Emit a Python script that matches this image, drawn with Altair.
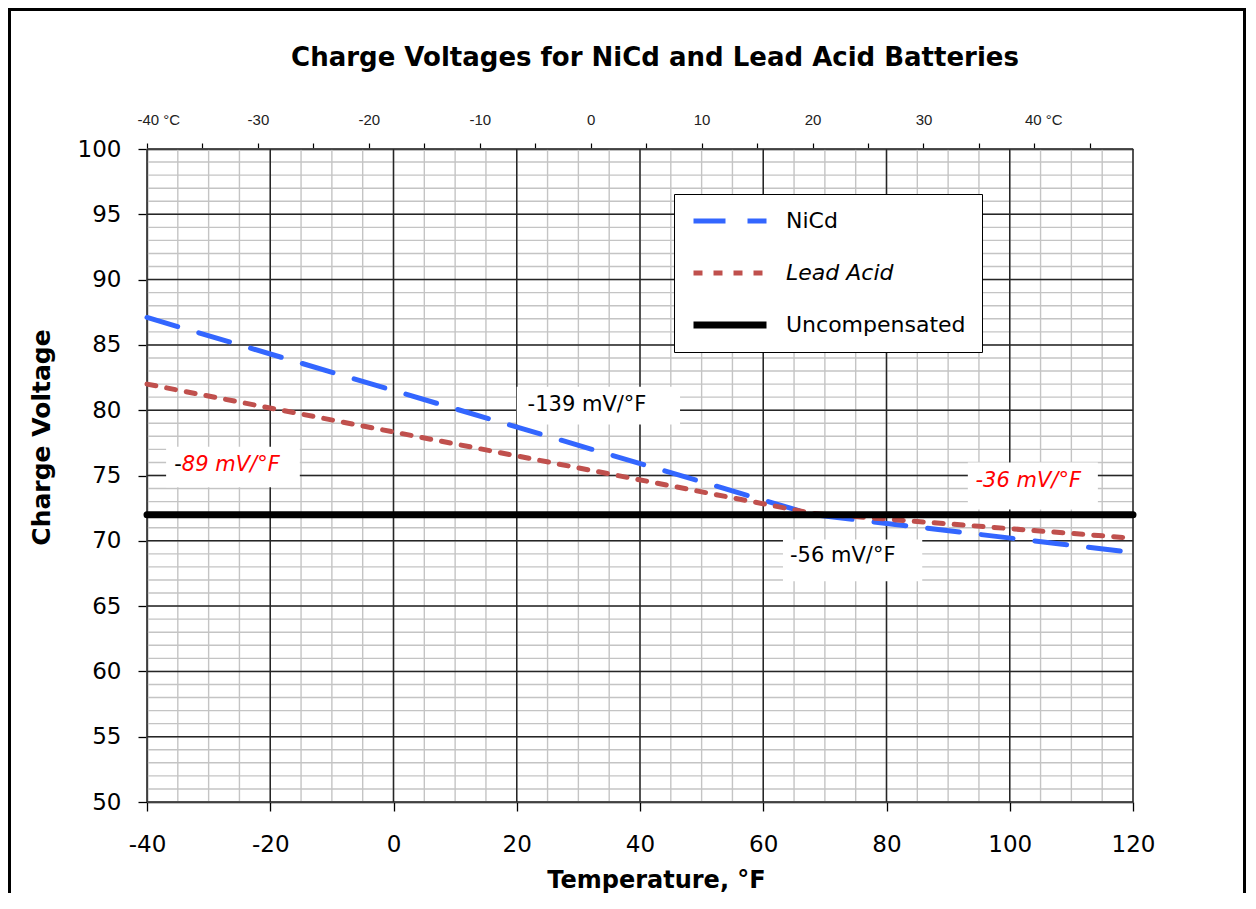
import altair as alt
import pandas as pd

# ---------------- data ----------------
series_names = ["NiCd", "Lead Acid", "Uncompensated"]
series_colors = ["#3366FF", "#C0504D", "#000000"]

nicd_temp = [-40, 68, 120]
nicd_volt = [87.1, 72.0, 69.1]
lead_temp = [-40, 68, 120]
lead_volt = [82.0, 72.1, 70.2]
uncomp_temp = [-40, 120]
uncomp_volt = [72.0, 72.0]

minor_f = list(range(-40, 121, 5))
major_f = list(range(-40, 121, 20))
minor_v = list(range(50, 101, 1))
major_v = list(range(50, 101, 5))
celsius_ticks = list(range(-40, 46, 5))

# annotation labels (anchor in deg F / volts)
black_text = ["-139 mV/°F", "-56 mV/°F"]
black_f = [31.4, 72.9]
black_v = [80.4, 68.8]
red_text = ["-36 mV/°F", "89 mV/°F"]
red_f = [103.0, -26.4]
red_v = [74.6, 75.8]
minus_text = ["-"]
minus_f = [-34.95]
minus_v = [75.8]

# white boxes behind annotations (deg F / volts)
box_f1 = [20.0, 63.2, -36.9, 93.2]
box_f2 = [46.5, 85.8, -15.2, 114.3]
box_v1 = [81.8, 70.1, 77.2, 76.0]
box_v2 = [78.9, 66.9, 74.1, 72.4]

# ---------------- frames ----------------
lines_df = pd.DataFrame({
    "F": nicd_temp + lead_temp + uncomp_temp,
    "V": nicd_volt + lead_volt + uncomp_volt,
    "series": ["NiCd"] * len(nicd_temp) + ["Lead Acid"] * len(lead_temp)
              + ["Uncompensated"] * len(uncomp_temp),
})
minor_f_df = pd.DataFrame({"F": minor_f})
major_f_df = pd.DataFrame({"F": major_f})
minor_v_df = pd.DataFrame({"V": minor_v})
major_v_df = pd.DataFrame({"V": major_v})
black_df = pd.DataFrame({"F": black_f, "V": black_v, "t": black_text})
red_df = pd.DataFrame({"F": red_f, "V": red_v, "t": red_text})
minus_df = pd.DataFrame({"F": minus_f, "V": minus_v, "t": minus_text})
box_df = pd.DataFrame({"F": box_f1, "F2": box_f2, "V": box_v1, "V2": box_v2})
cel_df = pd.DataFrame({"C": celsius_ticks})
dummy = pd.DataFrame({"d": [0]})

FONT = "DejaVu Sans"
W, H = 986, 653

xscale = alt.Scale(domain=[-40, 120], nice=False, zero=False)
yscale = alt.Scale(domain=[50, 100], nice=False, zero=False)

xaxis = alt.Axis(
    orient="bottom", values=major_f, grid=False, title="Temperature, °F",
    tickSize=9, tickColor="black", tickWidth=1.3, domainColor="black", domainWidth=1.3,
    labelFont=FONT, labelFontSize=23, labelColor="black", labelPadding=22,
    labelFlush=False, labelOverlap=False, labelExpr="'' + datum.value",
    titleFont=FONT, titleFontSize=24, titleFontWeight="bold", titleColor="black",
    titleX=509, titleY=66,
)
yaxis = alt.Axis(
    orient="left", values=major_v, grid=False, title="Charge Voltage",
    tickSize=9, tickColor="black", tickWidth=1.3, domainColor="black", domainWidth=1.3,
    labelFont=FONT, labelFontSize=23, labelColor="black", labelPadding=17,
    labelFlush=False, labelOverlap=False, labelExpr="'' + datum.value",
    titleFont=FONT, titleFontSize=25, titleFontWeight="bold", titleColor="black",
    titleX=-93, titleY=288,
)


def X(field="F"):
    return alt.X(f"{field}:Q", scale=xscale, axis=xaxis)


def Y(field="V"):
    return alt.Y(f"{field}:Q", scale=yscale, axis=yaxis)


grid_minor_v = alt.Chart(minor_v_df).mark_rule(color="#c4c4c4", strokeWidth=1.4).encode(y=Y())
grid_minor_f = alt.Chart(minor_f_df).mark_rule(color="#c4c4c4", strokeWidth=1.4).encode(x=X())
grid_major_v = alt.Chart(major_v_df).mark_rule(color="#262626", strokeWidth=1.5).encode(y=Y())
grid_major_f = alt.Chart(major_f_df).mark_rule(color="#262626", strokeWidth=1.5).encode(x=X())

boxes = alt.Chart(box_df).mark_rect(color="white").encode(
    x=X(), x2="F2:Q", y=Y(), y2="V2:Q"
)

lines = alt.Chart(lines_df).mark_line(strokeCap="round").encode(
    x=X(), y=Y(),
    color=alt.Color("series:N", scale=alt.Scale(domain=series_names, range=series_colors),
                    legend=alt.Legend(
                        title=None, orient="none", legendX=527, legendY=45,
                        padding=16, strokeColor="black", fillColor="white",
                        symbolType="stroke", symbolSize=5329, labelOffset=16,
                        clipHeight=22, rowPadding=30, labelFont=FONT, labelFontSize=22,
                        labelColor="black", labelLimit=400,
                        labelFontStyle={"expr": "datum.label == 'Lead Acid' ? 'italic' : 'normal'"},
                    )),
    strokeDash=alt.StrokeDash("series:N", scale=alt.Scale(domain=series_names,
                                                          range=[[32, 22], [9, 11], [1, 0]])),
    strokeWidth=alt.StrokeWidth("series:N", scale=alt.Scale(type="ordinal", domain=series_names,
                                                            range=[5, 5, 7])),
    order=alt.Order("F:Q"),
)

txt_black = alt.Chart(black_df).mark_text(font=FONT, fontSize=21, color="black",
                                          align="center", baseline="middle").encode(
    x=X(), y=Y(), text="t:N")
txt_red = alt.Chart(red_df).mark_text(font=FONT, fontSize=21, color="#FF0000", fontStyle="italic",
                                      align="center", baseline="middle").encode(
    x=X(), y=Y(), text="t:N")
txt_minus = alt.Chart(minus_df).mark_text(font=FONT, fontSize=21, color="black",
                                          align="center", baseline="middle").encode(
    x=X(), y=Y(), text="t:N")

border_left = alt.Chart(dummy).mark_rule(color="black", strokeWidth=3).encode(
    x=alt.value(-137.5), y=alt.value(-139.5), y2=alt.value(760))
border_top = alt.Chart(dummy).mark_rule(color="black", strokeWidth=3).encode(
    x=alt.value(-139), x2=alt.value(1099), y=alt.value(-139.5))
border_right = alt.Chart(dummy).mark_rule(color="black", strokeWidth=3).encode(
    x=alt.value(1097.5), y=alt.value(-139.5), y2=alt.value(760))

main = alt.layer(grid_minor_v, grid_minor_f, grid_major_v, grid_major_f, boxes, lines,
                 txt_black, txt_red, txt_minus, border_left, border_top, border_right)

top_axis = alt.Axis(
    orient="top", values=celsius_ticks, grid=False, title=None,
    tickSize=6, tickColor="black", tickWidth=1.2, domainColor="black", domainWidth=1.3,
    labelFont="Liberation Sans", labelFontSize=15, labelColor="#222222", labelPadding=16,
    labelFlush=False, labelOverlap=False,
    labelExpr="datum.value % 10 == 0 ? (datum.value == -40 ? '-40 °C' : (datum.value == 40 ? '40  °C' : '' + datum.value)) : ''",
    labelAlign=alt.ConditionalAxisLabelAlign(
        condition={"test": "abs(datum.value) == 40", "value": "left"}, value="center"),
    labelOffset=alt.ConditionalAxisNumber(
        condition={"test": "abs(datum.value) == 40", "value": -10}, value=0),
)
celsius = alt.Chart(cel_df).mark_point(opacity=0).encode(
    x=alt.X("C:Q", scale=alt.Scale(domain=[-40, 48.889], nice=False, zero=False), axis=top_axis),
    y=alt.value(0),
)

chart = alt.layer(main, celsius).resolve_scale(x="independent").properties(
    width=W, height=H,
    title=alt.TitleParams(
        text="Charge Voltages for NiCd and Lead Acid Batteries", anchor="middle", frame="group",
        dx=15, offset=-84, baseline="alphabetic", font=FONT, fontSize=26, fontWeight="bold",
        color="black"),
    autosize=alt.AutoSizeParams(type="none"),
    padding={"left": 139, "top": 141, "right": 113, "bottom": 91},
    background="white",
).configure_view(stroke=None)

chart.save("out.html", embed_options={"renderer": "svg", "actions": False})
